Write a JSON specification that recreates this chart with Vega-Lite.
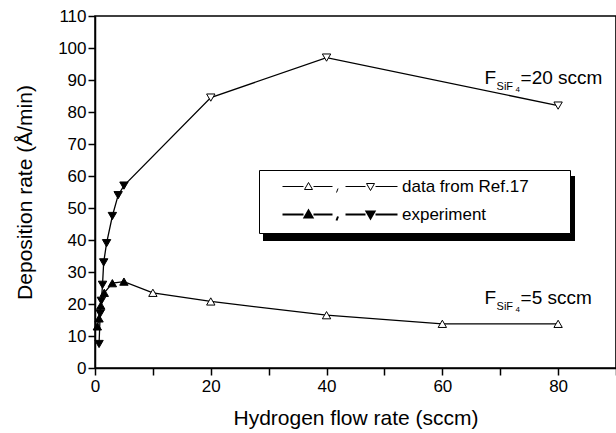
{
  "$schema": "https://vega.github.io/schema/vega-lite/v6.json",
  "width": 521,
  "height": 352,
  "autosize": "none",
  "padding": {"left": 95, "top": 16, "right": 0, "bottom": 65},
  "config": {
    "font": "Liberation Sans",
    "view": {"stroke": "black", "strokeWidth": 1.5},
    "axis": {
      "domainColor": "black", "domainWidth": 1.5, "tickColor": "black", "tickWidth": 1.5,
      "labelColor": "black", "titleColor": "black", "labelFontSize": 17, "titleFontSize": 21,
      "titleFontWeight": "normal", "grid": false, "labelFont": "Liberation Sans", "titleFont": "Liberation Sans"
    }
  },
  "datasets": {
    "pts": [
      {"g": "5", "s": "exp5", "x": 0.4, "y": 13},
      {"g": "5", "s": "exp5", "x": 0.7, "y": 15.5},
      {"g": "5", "s": "exp5", "x": 1.0, "y": 19.5},
      {"g": "5", "s": "exp5", "x": 1.6, "y": 23.5},
      {"g": "5", "s": "exp5", "x": 3.0, "y": 26.5},
      {"g": "5", "s": "exp5", "x": 5.0, "y": 27},
      {"g": "5", "s": "ref5", "x": 10, "y": 23.5},
      {"g": "5", "s": "ref5", "x": 20, "y": 20.8},
      {"g": "5", "s": "ref5", "x": 40, "y": 16.5},
      {"g": "5", "s": "ref5", "x": 60, "y": 13.8},
      {"g": "5", "s": "ref5", "x": 80, "y": 13.8},
      {"g": "20", "s": "exp20", "x": 0.7, "y": 7.5},
      {"g": "20", "s": "exp20", "x": 0.9, "y": 17},
      {"g": "20", "s": "exp20", "x": 1.1, "y": 21},
      {"g": "20", "s": "exp20", "x": 1.3, "y": 26},
      {"g": "20", "s": "exp20", "x": 1.5, "y": 33},
      {"g": "20", "s": "exp20", "x": 2.0, "y": 39},
      {"g": "20", "s": "exp20", "x": 3.0, "y": 47.5},
      {"g": "20", "s": "exp20", "x": 4.0, "y": 54},
      {"g": "20", "s": "exp20", "x": 5.0, "y": 57},
      {"g": "20", "s": "ref20", "x": 20, "y": 84.5},
      {"g": "20", "s": "ref20", "x": 40, "y": 97},
      {"g": "20", "s": "ref20", "x": 80, "y": 82}
    ],
    "ann": [
      {"x": 67.3, "y": 90.5, "t": "=20 sccm"},
      {"x": 67.3, "y": 22, "t": "=5 sccm"}
    ],
    "leg": [
      {"s": "ref"},
      {"s": "exp"},
      {"s": "shadow"}
    ]
  },
  "layer": [
    {
      "encoding": {
        "x": {
          "field": "x", "type": "quantitative",
          "scale": {"domain": [0, 90], "nice": false, "zero": false},
          "axis": {
            "values": [0, 10, 20, 30, 40, 50, 60, 70, 80, 90],
            "labelExpr": "datum.value % 20 == 0 && datum.value < 90 ? datum.label : ''",
            "tickSize": 7,
            "labelPadding": 3,
            "labelFlush": false,
            "title": "Hydrogen flow rate (sccm)",
            "titlePadding": 13,
            "encode": {"ticks": {"update": {"y": {"value": 0}, "y2": {"signal": "datum.value % 20 == 0 ? -7 : -4"}}}}
          }
        },
        "y": {
          "field": "y", "type": "quantitative",
          "scale": {"domain": [0, 110], "nice": false, "zero": false},
          "axis": {
            "values": [0, 10, 20, 30, 40, 50, 60, 70, 80, 90, 100, 110],
            "tickSize": 7,
            "labelPadding": 2,
            "labelFlush": false,
            "title": "Deposition rate (Å/min)",
            "titlePadding": 22,
            "encode": {"ticks": {"update": {"x": {"value": 0}, "x2": {"value": 7}}}}
          }
        }
      },
      "layer": [
        {
          "data": {"name": "pts"},
          "mark": {"type": "line", "color": "black", "strokeWidth": 1.3},
          "encoding": {"detail": {"field": "g"}, "order": {"field": "x", "type": "quantitative"}}
        },
        {
          "data": {"name": "pts"},
          "transform": [{"filter": "datum.s == 'ref5'"}],
          "mark": {"type": "point", "shape": "triangle-up", "size": 70, "filled": true, "fill": "white", "stroke": "black", "strokeWidth": 1, "opacity": 1}
        },
        {
          "data": {"name": "pts"},
          "transform": [{"filter": "datum.s == 'ref20'"}],
          "mark": {"type": "point", "shape": "triangle-down", "size": 70, "filled": true, "fill": "white", "stroke": "black", "strokeWidth": 1, "opacity": 1}
        },
        {
          "data": {"name": "pts"},
          "transform": [{"filter": "datum.s == 'exp5'"}],
          "mark": {"type": "point", "shape": "triangle-up", "size": 70, "filled": true, "fill": "black", "stroke": "black", "strokeWidth": 1, "opacity": 1}
        },
        {
          "data": {"name": "pts"},
          "transform": [{"filter": "datum.s == 'exp20'"}],
          "mark": {"type": "point", "shape": "triangle-down", "size": 70, "filled": true, "fill": "black", "stroke": "black", "strokeWidth": 1, "opacity": 1}
        },
        {
          "data": {"name": "ann"},
          "mark": {"type": "text", "text": "F", "align": "left", "baseline": "middle", "fontSize": 19, "font": "Liberation Sans", "color": "black"}
        },
        {
          "data": {"name": "ann"},
          "mark": {"type": "text", "text": "SiF", "align": "left", "baseline": "middle", "fontSize": 11, "dx": 12, "dy": 9, "font": "Liberation Sans", "color": "black"}
        },
        {
          "data": {"name": "ann"},
          "mark": {"type": "text", "text": "4", "align": "left", "baseline": "middle", "fontSize": 8, "dx": 31, "dy": 12, "font": "Liberation Sans", "color": "black"}
        },
        {
          "data": {"name": "ann"},
          "mark": {"type": "text", "align": "left", "baseline": "middle", "fontSize": 19, "dx": 36, "font": "Liberation Sans", "color": "black"},
          "encoding": {"text": {"field": "t"}}
        },
        {
          "data": {"name": "leg"},
          "transform": [{"filter": "datum.s == 'none'"}],
          "mark": {"type": "point", "filled": true, "opacity": 1},
          "encoding": {
            "x": {"value": 0},
            "y": {"value": 0},
            "color": {
              "field": "s", "type": "nominal",
              "scale": {"domain": ["shadow"], "range": ["black"]},
              "legend": {
                "orient": "none", "legendX": 163, "legendY": 155, "title": null,
                "symbolType": "M0,0H312V65H0Z", "symbolSize": 4, "padding": 0,
                "labelExpr": "''", "symbolStrokeWidth": 0, "symbolOpacity": 1, "symbolFillColor": "black"
              }
            }
          }
        },
        {
          "data": {"name": "leg"},
          "transform": [{"filter": "datum.s == 'none'"}],
          "mark": {"type": "point", "filled": true, "stroke": "black", "opacity": 1},
          "encoding": {
            "x": {"value": 0},
            "y": {"value": 0},
            "shape": {
              "field": "s", "type": "nominal",
              "scale": {
                "domain": ["ref", "exp"],
                "range": [
                  "M0,0H21M22,3L26,-4L30,3ZM31,0H50M55.5,2L54,6M63,0H83M84,-3L92,-3L88,4ZM93,0H115M275,0",
                  "M0,0H21M22,3L26,-4L30,3ZM31,0H50M55.5,2L54,6M63,0H83M84,-3L92,-3L88,4ZM93,0H115M275,0"
                ]
              },
              "legend": {
                "orient": "none", "legendX": 164, "legendY": 154, "title": null,
                "symbolSize": 4, "symbolOffset": 7, "labelOffset": 111,
                "labelFontSize": 17, "labelFont": "Liberation Sans", "labelColor": "black",
                "padding": 8, "rowPadding": 10, "fillColor": "white", "strokeColor": "black",
                "symbolStrokeColor": "black", "symbolOpacity": 1,
                "labelExpr": "datum.value == 'ref' ? 'data from Ref.17' : 'experiment'"
              }
            },
            "fill": {
              "field": "s", "type": "nominal",
              "scale": {"domain": ["ref", "exp"], "range": ["white", "black"]},
              "legend": {
                "orient": "none", "legendX": 164, "legendY": 154, "title": null,
                "symbolSize": 4, "symbolOffset": 7, "labelOffset": 111,
                "labelFontSize": 17, "labelFont": "Liberation Sans", "labelColor": "black",
                "padding": 8, "rowPadding": 10, "fillColor": "white", "strokeColor": "black",
                "symbolStrokeColor": "black", "symbolOpacity": 1,
                "labelExpr": "datum.value == 'ref' ? 'data from Ref.17' : 'experiment'"
              }
            },
            "stroke": {
              "field": "s", "type": "nominal",
              "scale": {"domain": ["ref", "exp"], "range": ["black", "black"]},
              "legend": {
                "orient": "none", "legendX": 164, "legendY": 154, "title": null,
                "symbolSize": 4, "symbolOffset": 7, "labelOffset": 111,
                "labelFontSize": 17, "labelFont": "Liberation Sans", "labelColor": "black",
                "padding": 8, "rowPadding": 10, "fillColor": "white", "strokeColor": "black",
                "symbolStrokeColor": "black", "symbolOpacity": 1,
                "labelExpr": "datum.value == 'ref' ? 'data from Ref.17' : 'experiment'"
              }
            },
            "strokeWidth": {
              "field": "s", "type": "nominal",
              "scale": {"domain": ["ref", "exp"], "range": [1, 2]},
              "legend": {
                "orient": "none", "legendX": 164, "legendY": 154, "title": null,
                "symbolSize": 4, "symbolOffset": 7, "labelOffset": 111,
                "labelFontSize": 17, "labelFont": "Liberation Sans", "labelColor": "black",
                "padding": 8, "rowPadding": 10, "fillColor": "white", "strokeColor": "black",
                "symbolStrokeColor": "black", "symbolOpacity": 1,
                "labelExpr": "datum.value == 'ref' ? 'data from Ref.17' : 'experiment'"
              }
            }
          }
        }
      ]
    },
    {
      "data": {"name": "pts"},
      "transform": [{"filter": "datum.x < 0"}],
      "mark": {"type": "point"},
      "encoding": {
        "y": {
          "field": "y", "type": "quantitative",
          "scale": {"domain": [0, 110], "nice": false, "zero": false},
          "axis": {
            "orient": "right",
            "values": [0, 10, 20, 30, 40, 50, 60, 70, 80, 90, 100, 110],
            "tickSize": 7, "labels": false, "title": null,
            "encode": {"ticks": {"update": {"x": {"value": 0}, "x2": {"value": -7}}}}
          }
        }
      }
    }
  ],
  "resolve": {"axis": {"y": "independent"}}
}
